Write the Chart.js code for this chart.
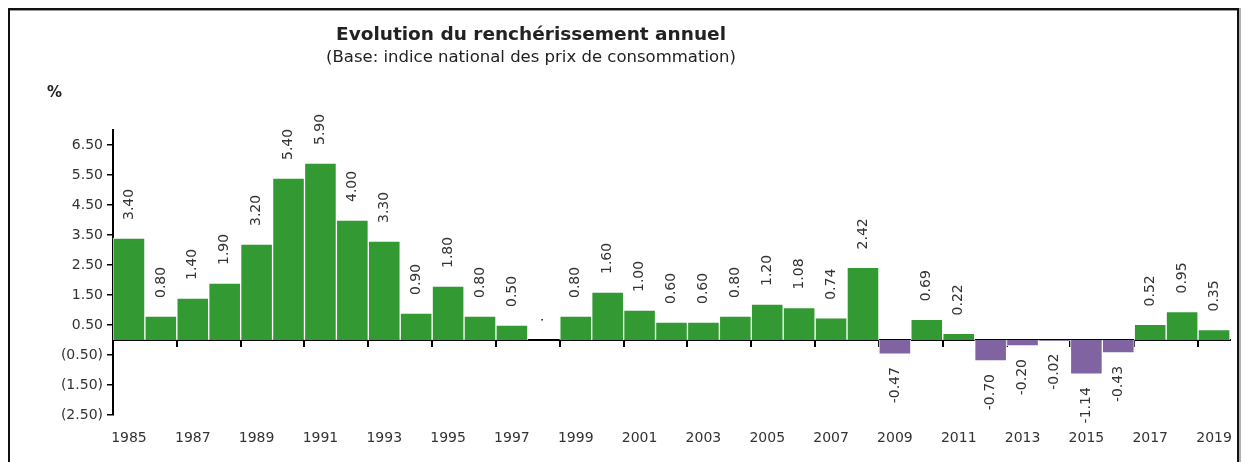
<!DOCTYPE html>
<html>
<head>
<meta charset="utf-8">
<script src="https://cdn.jsdelivr.net/npm/chart.js@4.4.1/dist/chart.umd.min.js"></script>
<style>
  body { margin: 0; background: #fff; overflow: hidden; }
  #wrap { position: relative; width: 1246px; height: 462px; }
  #frame {
    position: absolute; left: 8px; top: 8px; width: 1231px; height: 600px;
    box-sizing: border-box; border: 2px solid #111;
    box-shadow: 2px 0 0 #b0b0b0, inset 0 1px 0 #999;
    pointer-events: none;
  }
</style>
</head>
<body>
<div id="wrap">
  <canvas id="inflation"></canvas>
  <div id="frame"></div>
</div>
<script>
const years = ['1985','1986','1987','1988','1989','1990','1991','1992','1993','1994',
  '1995','1996','1997','1998','1999','2000','2001','2002','2003','2004',
  '2005','2006','2007','2008','2009','2010','2011','2012','2013','2014',
  '2015','2016','2017','2018','2019'];
const rates = [3.40, 0.80, 1.40, 1.90, 3.20, 5.40, 5.90, 4.00, 3.30, 0.90,
  1.80, 0.80, 0.50, 0.00, 0.80, 1.60, 1.00, 0.60, 0.60, 0.80,
  1.20, 1.08, 0.74, 2.42, -0.47, 0.69, 0.22, -0.70, -0.20, -0.02,
  -1.14, -0.43, 0.52, 0.95, 0.35];
const yTicks = [6.5, 5.5, 4.5, 3.5, 2.5, 1.5, 0.5, -0.5, -1.5, -2.5];

const green = '#339933';
const purple = '#8064a2';
const font = 'DejaVu Sans';

function fmtTick(v) {
  return v < 0 ? '(' + Math.abs(v).toFixed(2) + ')' : v.toFixed(2);
}

const overlay = {
  id: 'overlay',
  afterDatasetsDraw(chart) {
    const ctx = chart.ctx;
    const meta = chart.getDatasetMeta(0);
    ctx.save();
    ctx.fillStyle = '#333';
    ctx.font = '14px "' + font + '"';
    ctx.textBaseline = 'middle';
    meta.data.forEach((bar, i) => {
      const v = rates[i];
      const txt = v === 0 ? '·' : v.toFixed(2);
      ctx.save();
      if (v >= 0) {
        ctx.translate(bar.x, bar.y - 18);
        ctx.rotate(-Math.PI / 2);
        ctx.textAlign = 'left';
      } else {
        ctx.translate(bar.x, bar.y + 13);
        ctx.rotate(-Math.PI / 2);
        ctx.textAlign = 'right';
      }
      ctx.fillText(txt, 0, 0);
      ctx.restore();
    });
    // titles
    ctx.fillStyle = '#222';
    ctx.textAlign = 'center';
    ctx.font = 'bold 18.5px "' + font + '"';
    ctx.fillText('Evolution du renchérissement annuel', 531, 35);
    ctx.font = '16.5px "' + font + '"';
    ctx.fillText('(Base: indice national des prix de consommation)', 531, 58);
    ctx.font = 'bold 15px "' + font + '"';
    ctx.textAlign = 'left';
    ctx.fillText('%', 47, 93);
    ctx.restore();
  }
};

new Chart(document.getElementById('inflation'), {
  type: 'bar',
  data: {
    labels: years,
    datasets: [{
      data: rates,
      backgroundColor: rates.map(v => v < 0 ? purple : green),
      borderColor: 'rgba(255,255,255,0.85)',
      borderWidth: 1,
      barPercentage: 1,
      categoryPercentage: 1
    }]
  },
  options: {
    responsive: true,
    maintainAspectRatio: false,
    animation: false,
    layout: { padding: { top: 130, left: 0, right: 16, bottom: 0 } },
    plugins: { legend: { display: false }, tooltip: { enabled: false } },
    scales: {
      x: {
        position: { y: 0 },
        offset: true,
        grid: {
          offset: true,
          drawOnChartArea: false,
          drawTicks: true,
          tickLength: 6,
          lineWidth: 2,
          color: c => (c.index % 2 === 0 && c.index > 0 && c.index < years.length) ? '#000' : 'rgba(0,0,0,0)'
        },
        border: { display: true, color: '#000', width: 2 },
        ticks: { display: false, autoSkip: false },
        afterFit: s => { s.height = 0; }
      },
      x2: {
        type: 'category',
        position: 'bottom',
        offset: true,
        grid: { display: false },
        border: { display: false },
        ticks: {
          autoSkip: false,
          maxRotation: 0,
          padding: 7,
          color: '#333',
          font: { family: font, size: 14 },
          callback: (v, i) => i % 2 === 0 ? years[i] : ''
        },
        afterFit: s => { s.height = 47; }
      },
      y: {
        min: -2.5,
        max: 7,
        afterBuildTicks: s => { s.ticks = yTicks.map(v => ({ value: v })); },
        grid: { drawOnChartArea: false, drawTicks: true, tickLength: 6, color: '#000', lineWidth: 1.5 },
        border: { display: true, color: '#000', width: 2 },
        ticks: {
          padding: 4,
          color: '#333',
          font: { family: font, size: 14 },
          callback: v => fmtTick(v)
        },
        afterFit: s => { s.width = 113; }
      }
    }
  },
  plugins: [overlay]
});
</script>
</body>
</html>
